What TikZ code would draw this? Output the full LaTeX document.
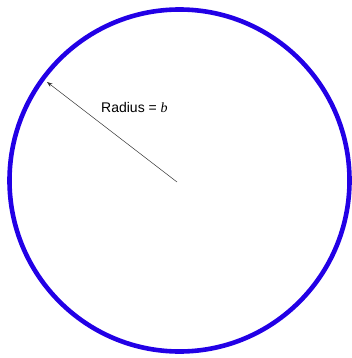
\documentclass[tikz,border=0pt]{standalone}
\usepackage{fontspec}
\setmainfont{Liberation Sans}
\newfontfamily\tms{Liberation Serif}
\usetikzlibrary{arrows.meta}
\definecolor{ringblue}{RGB}{34,0,230}
\tikzset{
  ring/.style={draw=ringblue, line width=4.6pt},
  radiusarrow/.style={draw=black!80, line width=0.5pt, -{Stealth[length=5.5pt,width=4pt]}},
  lbl/.style={font=\fontsize{14}{16}\selectfont, inner sep=0pt}
}
\begin{document}
\begin{tikzpicture}[x=1pt,y=-1pt]
\useasboundingbox (0,0) rectangle (351,358);
\coordinate (c) at (179.5,180.5);
\draw[ring] (c) ellipse [x radius=170, y radius=171];
\coordinate (ctr) at (177,182);
\coordinate (rim) at (47,82);
\draw[radiusarrow] (ctr) -- (rim);
\node[lbl, anchor=base west] (r) at (101,113) {Radius = {\tms\itshape b}};
\end{tikzpicture}
\end{document}
